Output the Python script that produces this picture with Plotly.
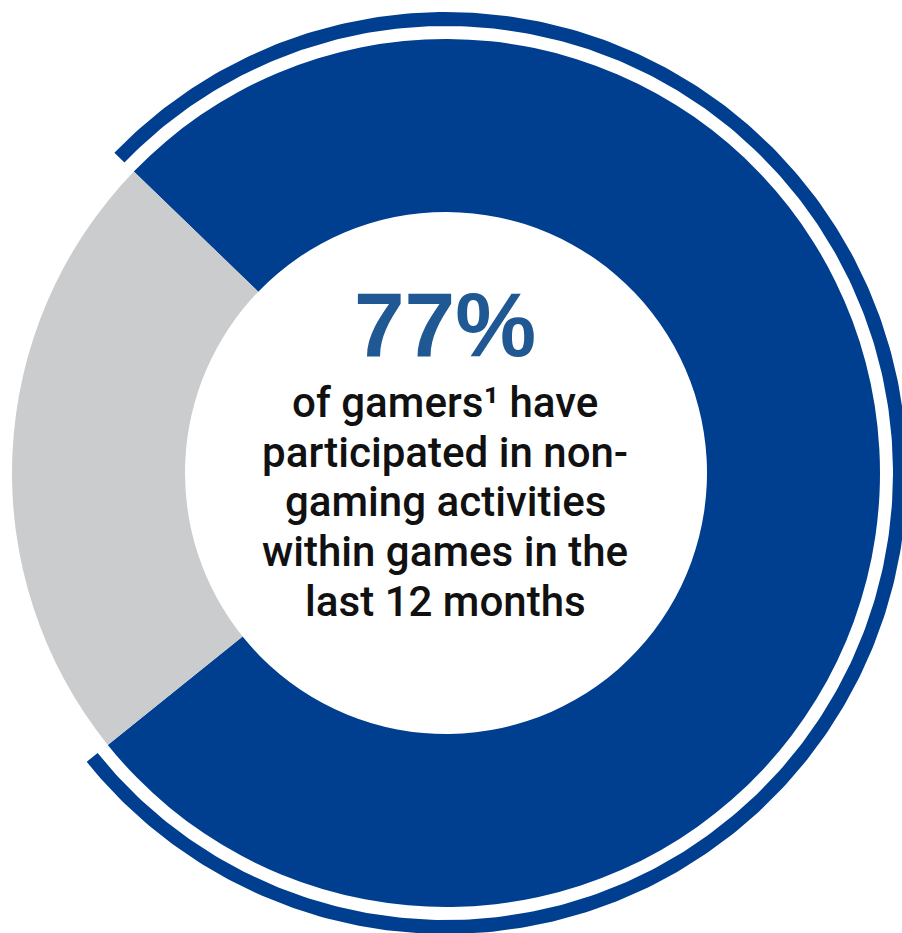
import numpy as np
import plotly.graph_objects as go

# ---- data ----
labels = ["Participated in non-gaming activities", "Did not"]
values = [77, 23]
headline = "77%"
body_lines = [
    "of gamers¹ have",
    "participated in non-",
    "gaming activities",
    "within games in the",
    "last 12 months",
]

# ---- style / geometry ----
W, H = 902, 933
CX, CY = 446, 473          # centre in pixels (from top-left)
R_OUT, R_IN = 434, 261     # donut radii
RING_IN, RING_OUT = 447, 461
ROTATION = -46             # compass bearing of first slice start (clockwise)
BLUE = "#003e8f"
GRAY = "#cbcccd"
HEAD_BLUE = "#1f5893"

fig = go.Figure()

# main donut
fig.add_trace(go.Pie(
    labels=labels, values=values, sort=False, direction="clockwise",
    rotation=ROTATION, hole=R_IN / R_OUT,
    marker=dict(colors=[BLUE, GRAY], line=dict(width=0)),
    textinfo="none", hoverinfo="label+percent", showlegend=False,
    domain=dict(x=[(CX - R_OUT) / W, (CX + R_OUT) / W],
                y=[(H - CY - R_OUT) / H, (H - CY + R_OUT) / H]),
))

# thin outer ring spanning the highlighted share
share = values[0] / sum(values)
start = np.deg2rad(ROTATION)
end = start + share * 2 * np.pi
t = np.linspace(start, end, 400)
xo = CX + RING_OUT * np.sin(t)
yo = CY - RING_OUT * np.cos(t)
xi = CX + RING_IN * np.sin(t[::-1])
yi = CY - RING_IN * np.cos(t[::-1])
fig.add_trace(go.Scatter(
    x=np.concatenate([xo, xi, xo[:1]]), y=np.concatenate([yo, yi, yo[:1]]),
    mode="lines", fill="toself", fillcolor=BLUE, line=dict(width=0),
    hoverinfo="skip", showlegend=False,
))

# centre text
fig.add_annotation(x=CX - 1, y=324, xref="x", yref="y", text=headline,
                   showarrow=False, xanchor="center", yanchor="middle",
                   font=dict(family="Liberation Sans, Arial", size=91,
                             color=HEAD_BLUE, weight="bold"))
line_y = [402, 452, 501, 551, 601]
for txt, yy in zip(body_lines, line_y):
    fig.add_annotation(x=CX - 1, y=yy, xref="x", yref="y", text=txt,
                       showarrow=False, xanchor="center", yanchor="middle",
                       font=dict(family="Roboto Medium, Roboto", size=42,
                                 color="#111111", weight=500))

fig.update_layout(
    width=W, height=H, margin=dict(l=0, r=0, t=0, b=0),
    paper_bgcolor="white", plot_bgcolor="white",
    xaxis=dict(range=[0, W], visible=False, fixedrange=True),
    yaxis=dict(range=[H, 0], visible=False, fixedrange=True),
)

fig.write_html("out.html")
